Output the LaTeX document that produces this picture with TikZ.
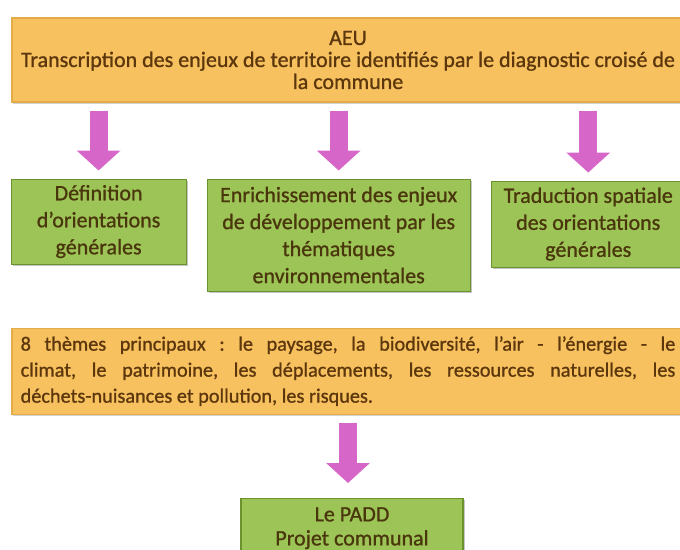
\documentclass[tikz,border=0pt]{standalone}
\usepackage{fontspec}
\setmainfont{Carlito}[FakeBold=0.9]
\usepackage{tikz}
\usetikzlibrary{arrows.meta,positioning,shadows}

\definecolor{aeuorange}{RGB}{246,193,94}
\definecolor{aeuedge}{RGB}{228,172,72}
\definecolor{aeutext}{RGB}{92,54,12}
\definecolor{padgreen}{RGB}{156,196,86}
\definecolor{padedge}{RGB}{108,146,48}
\definecolor{padtext}{RGB}{74,54,12}
\definecolor{arrowpink}{RGB}{214,102,200}

\begin{document}
\frenchspacing
\begin{tikzpicture}[x=0.75pt,y=-0.75pt,
    orange box/.style={rectangle,fill=aeuorange,draw=aeuedge,line width=0.8pt,
      drop shadow={shadow xshift=1pt,shadow yshift=-1.5pt,opacity=0.35},
      text=aeutext,minimum width=504pt},
    green box/.style={rectangle,fill=padgreen,draw=padedge,line width=0.8pt,
      drop shadow={shadow xshift=1.5pt,shadow yshift=-1.5pt,opacity=0.45},
      text=padtext,align=center,font=\fontsize{16.5}{20.25}\selectfont},
    pink arrow/.style={draw=arrowpink,line width=13.5pt,
      -{Triangle[width=32pt,length=15pt]},shorten <=6pt}]
    \useasboundingbox (0,0) rectangle (680,549);
    \clip (0,0) rectangle (680,549);
    \node[orange box,minimum height=63pt,align=center,
      font=\fontsize{16.5}{16.5}\selectfont] (aeu) at (348,60)
      {AEU\\Transcription des enjeux de territoire identifiés par le diagnostic croisé de\\la commune};
    \node[green box,minimum width=197.25pt,minimum height=84pt,anchor=north]
      (enr) at ([xshift=-7pt,yshift=-57pt]aeu.south)
      {Enrichissement des enjeux\\de développement par les\\thématiques\\environnementales};
    \node[green box,minimum width=131.25pt,minimum height=63.75pt,anchor=north east]
      (def) at ([xshift=-15pt]enr.north west)
      {Définition\\d’orientations\\générales};
    \node[green box,minimum width=145.5pt,minimum height=64.5pt,anchor=north west]
      (trad) at ([xshift=15pt,yshift=-1.5pt]enr.north east)
      {Traduction spatiale\\des orientations\\générales};
    \node[orange box,minimum height=64.5pt,text width=491pt,inner xsep=6.5pt,
      align=justify,font=\fontsize{15.2}{19.5}\selectfont,anchor=north]
      (themes) at ([yshift=-27pt]enr.south -| aeu.south)
      {8 thèmes principaux : le paysage, la biodiversité, l’air - l’énergie - le\linebreak
       climat, le patrimoine, les déplacements, les ressources naturelles, les\linebreak
       déchets-nuisances et pollution, les risques.};
    \node[green box,minimum width=166.5pt,minimum height=45pt,anchor=north,
      font=\fontsize{16.5}{18}\selectfont] (padd) at ([xshift=3pt,yshift=-62.25pt]themes.south)
      {Le PADD\\Projet communal};
    \draw[pink arrow,shorten >=6pt] (aeu.south -| def.north) -- (def.north);
    \draw[pink arrow,shorten >=6pt] (aeu.south -| enr.north) -- (enr.north);
    \draw[pink arrow,shorten >=6pt] (aeu.south -| trad.north) -- (trad.north);
    \draw[pink arrow,shorten >=11pt] (themes.south) -- (themes.south |- padd.north);
\end{tikzpicture}
\end{document}
